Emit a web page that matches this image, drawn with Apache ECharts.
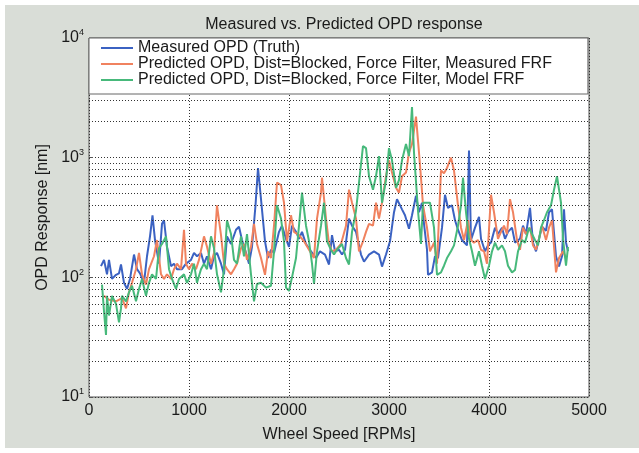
<!DOCTYPE html>
<html>
<head>
<meta charset="utf-8">
<script src="https://cdn.jsdelivr.net/npm/echarts@6/dist/echarts.min.js"></script>
<style>
  html, body { margin: 0; padding: 0; background: #fff; overflow: hidden; }
  #chart { position: absolute; left: 5px; top: 5px; width: 634px; height: 443px; }
</style>
</head>
<body>
<div id="chart"></div>
<script>
// 图例名称
var seriesNames = [
  'Measured OPD (Truth)',
  'Predicted OPD, Dist=Blocked, Force Filter, Measured FRF',
  'Predicted OPD, Dist=Blocked, Force Filter, Model FRF'
];

// 蓝线：实测
var blueRpm = [120,150,180,200,230,270,300,320,350,380,410,450,480,510,550,580,610,635,660,700,730,750,780,820,850,880,930,970,1020,1050,1080,1120,1150,1180,1220,1250,1280,1320,1350,1380,1420,1470,1500,1530,1570,1600,1630,1665,1690,1720,1760,1790,1820,1850,1900,1930,1970,2000,2030,2070,2100,2130,2170,2220,2270,2310,2360,2400,2430,2460,2500,2530,2560,2600,2630,2670,2720,2750,2800,2850,2900,2930,2970,3010,3050,3080,3130,3160,3200,3230,3270,3300,3330,3350,3380,3390,3430,3460,3490,3530,3560,3590,3630,3660,3690,3730,3780,3800,3820,3860,3900,3920,3960,3990,4020,4060,4090,4130,4160,4190,4230,4260,4310,4340,4370,4410,4440,4470,4500,4530,4570,4600,4630,4670,4700,4730,4750,4770,4790];
var blueOpd = [124,140,106,140,97,105,108,128,90,80,97,155,117,108,90,150,220,330,205,130,280,300,180,124,130,117,117,130,140,160,150,160,130,150,117,150,160,130,106,220,190,250,265,205,160,130,180,400,820,450,200,145,170,160,240,270,210,180,270,240,210,240,190,165,145,165,155,128,225,165,170,155,170,310,270,240,155,135,155,165,155,123,155,200,350,450,370,330,255,330,480,350,420,280,170,105,110,150,145,260,490,380,400,300,250,205,185,1150,205,260,320,210,165,185,195,260,230,260,210,240,260,195,210,270,230,380,195,165,210,265,245,350,370,150,123,150,370,195,165];

// 橙线：预测（实测 FRF）
var orangeRpm = [150,200,270,330,370,400,430,470,500,530,570,600,650,680,720,750,780,820,850,880,920,950,970,1000,1030,1070,1100,1150,1180,1220,1250,1280,1320,1350,1380,1420,1450,1480,1520,1550,1580,1620,1650,1680,1720,1760,1790,1820,1850,1880,1920,1950,1980,2020,2050,2100,2150,2200,2250,2280,2320,2330,2370,2400,2430,2470,2520,2570,2600,2630,2670,2700,2740,2770,2800,2840,2870,2900,2930,2970,3000,3030,3070,3100,3130,3170,3200,3230,3270,3300,3320,3340,3380,3410,3450,3480,3520,3550,3580,3620,3650,3690,3720,3750,3790,3820,3850,3890,3920,3950,3980,4020,4050,4090,4120,4150,4180,4210,4240,4280,4310,4340,4370,4410,4440,4470,4500,4530,4570,4600,4630,4670,4700,4740,4770];
var orangeOpd = [70,65,63,67,55,75,90,117,160,106,87,117,150,205,106,97,106,97,117,130,117,250,130,117,130,117,140,220,180,130,160,400,225,130,117,106,117,130,175,190,140,180,280,190,145,105,165,145,270,620,590,420,200,330,240,225,200,170,145,310,510,680,310,190,165,170,190,270,540,420,310,165,200,240,280,270,420,310,420,700,950,750,560,510,700,750,1100,1300,2200,1100,680,400,260,165,195,130,780,740,820,1000,780,400,260,205,300,205,195,205,170,165,130,490,350,210,240,270,230,450,350,205,170,260,230,260,185,170,210,270,205,260,300,110,145,165,145];

// 绿线：预测（模型 FRF）
var greenRpm = [130,150,170,180,200,230,270,300,320,330,370,400,430,470,500,530,570,600,630,670,700,730,770,800,830,870,900,950,980,1020,1050,1080,1120,1150,1180,1220,1250,1280,1320,1350,1380,1420,1450,1480,1520,1550,1580,1620,1650,1680,1720,1770,1820,1850,1880,1920,1950,1970,2000,2030,2070,2100,2130,2170,2200,2230,2250,2280,2320,2350,2380,2420,2450,2480,2530,2570,2600,2630,2670,2700,2740,2770,2800,2840,2870,2900,2930,2970,3000,3030,3070,3100,3130,3170,3200,3230,3250,3290,3320,3340,3380,3410,3450,3480,3520,3550,3580,3620,3650,3690,3720,3740,3770,3800,3830,3860,3900,3930,3960,4000,4030,4060,4090,4130,4160,4190,4230,4260,4290,4330,4360,4400,4430,4460,4490,4520,4550,4580,4620,4650,4680,4720,4740,4770,4790];
var greenOpd = [87,52,33,70,48,70,60,42,55,70,63,75,85,63,80,97,70,90,106,97,175,190,220,117,97,80,97,106,90,106,130,90,117,130,117,220,175,106,75,117,300,230,140,130,220,150,230,106,63,88,90,82,85,165,400,310,200,82,77,100,145,270,510,270,200,130,88,165,270,420,200,170,155,170,190,145,128,240,360,620,1250,1200,700,540,700,1030,420,650,1200,950,560,650,950,1300,1030,2650,1100,360,190,420,420,420,260,105,110,125,145,165,185,270,400,680,350,210,165,125,165,125,97,125,165,195,170,185,165,125,110,115,165,205,195,260,230,205,185,260,300,350,400,540,700,420,210,125,180];

// 次网格（对数轴 2~9 倍）
var minorGrid = [20,30,40,50,60,70,80,90,200,300,400,500,600,700,800,900,2000,3000,4000,5000,6000,7000,8000,9000];

var colors = ['#3b62c2', '#f0825f', '#47b97b'];

function zip(xs, ys) {
  return xs.map(function (x, i) { return [x, ys[i]]; });
}

var chartDom = document.getElementById('chart');
var myChart = echarts.init(chartDom);
var font = '"Liberation Sans", Arial, sans-serif';
var ink = '#1a1a1a';

var option = {
  backgroundColor: '#d9ddd7',
  animation: false,
  textStyle: { fontFamily: font },
  title: {
    text: 'Measured vs. Predicted OPD response',
    left: 334,
    top: 7,
    textAlign: 'center',
    textStyle: { fontSize: 16, fontWeight: 'normal', color: ink, fontFamily: font }
  },
  grid: {
    show: true,
    left: 84,
    right: 50,
    top: 33,
    bottom: 45,
    backgroundColor: '#ffffff',
    borderColor: '#555',
    borderWidth: 1
  },
  legend: {
    data: seriesNames,
    z: 100,
    orient: 'vertical',
    left: 84,
    top: 33,
    itemWidth: 32,
    itemHeight: 2,
    itemGap: 0,
    icon: 'rect',
    padding: [2, 36, 6, 12],
    backgroundColor: '#ffffff',
    borderColor: '#666',
    borderWidth: 1,
    textStyle: { fontSize: 16, lineHeight: 15, color: ink, fontFamily: font }
  },
  xAxis: {
    type: 'value',
    min: 0,
    max: 5000,
    interval: 1000,
    name: 'Wheel Speed [RPMs]',
    nameLocation: 'middle',
    nameGap: 30,
    nameTextStyle: { fontSize: 16, color: ink },
    axisLine: { show: false },
    axisTick: { show: false },
    axisLabel: {
      fontSize: 16,
      color: ink,
      margin: 6,
      formatter: function (v) { return String(v); }
    },
    splitLine: { show: true, lineStyle: { type: [1, 2], color: '#333', width: 1 } }
  },
  yAxis: {
    type: 'log',
    logBase: 10,
    min: 10,
    max: 10000,
    name: 'OPD Response [nm]',
    nameLocation: 'middle',
    nameGap: 38,
    nameTextStyle: { fontSize: 16, color: ink },
    axisLine: { show: false },
    axisTick: { show: true, inside: true, length: 4, lineStyle: { color: '#555' } },
    axisLabel: {
      fontSize: 16,
      color: ink,
      margin: 5,
      formatter: function (v) {
        return '10{e|' + Math.round(Math.log10(v)) + '}';
      },
      rich: {
        e: { fontSize: 9, verticalAlign: 'top', padding: [0, 0, 10, 0], color: ink }
      }
    },
    splitLine: { show: true, lineStyle: { type: [1, 2], color: '#333', width: 1 } }
  },
  series: [
    {
      name: 'minor-grid',
      type: 'line',
      data: [],
      z: 1,
      silent: true,
      markLine: {
        silent: true,
        symbol: 'none',
        animation: false,
        label: { show: false },
        lineStyle: { type: [1, 2], color: '#333', width: 1 },
        data: minorGrid.map(function (v) { return { yAxis: v }; })
      }
    },
    {
      name: seriesNames[0],
      type: 'line',
      data: zip(blueRpm, blueOpd),
      color: colors[0],
      symbol: 'none',
      lineStyle: { width: 2 }
    },
    {
      name: seriesNames[1],
      type: 'line',
      data: zip(orangeRpm, orangeOpd),
      color: colors[1],
      symbol: 'none',
      lineStyle: { width: 2 }
    },
    {
      name: seriesNames[2],
      type: 'line',
      data: zip(greenRpm, greenOpd),
      color: colors[2],
      symbol: 'none',
      lineStyle: { width: 2 }
    }
  ]
};

myChart.setOption(option);
window.addEventListener('resize', function () {
  myChart.resize();
});
</script>
</body>
</html>
